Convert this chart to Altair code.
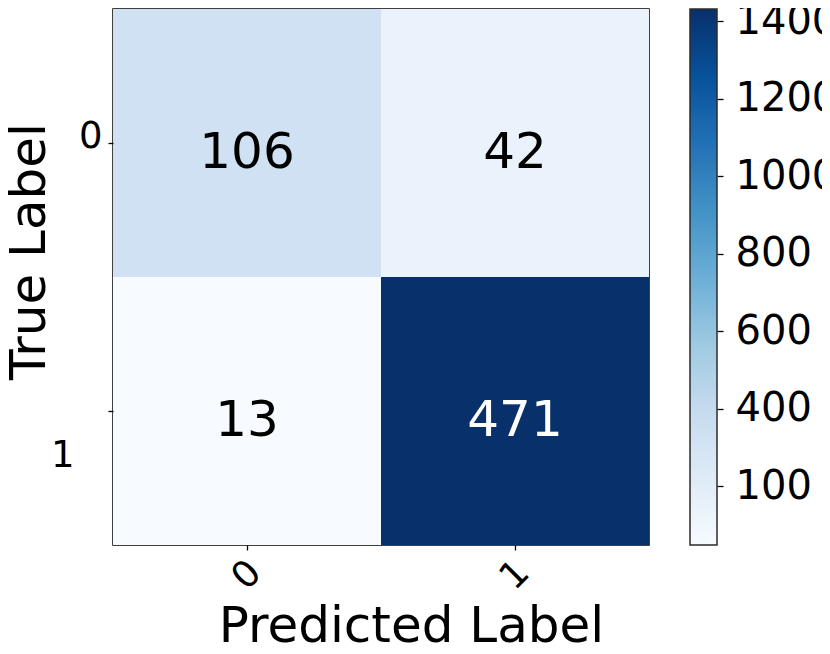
import altair as alt
import pandas as pd
import numpy as np

# --- data ---
true_labels = ["0", "0", "1", "1"]
pred_labels = ["0", "1", "0", "1"]
counts = [106, 42, 13, 471]
class_names = ["0", "1"]

cbar_ticks = [200, 400, 600, 800, 1000, 1200, 1400]
cbar_labels = ["100", "400", "600", "800", "1000", "1200", "1400"]
cbar_extent = [48, 1431]

blues = ["#f7fbff", "#deebf7", "#c6dbef", "#9ecae1", "#6baed6",
         "#4292c6", "#2171b5", "#08519c", "#08306b"]

FONT = "DejaVu Sans"

df = pd.DataFrame({"true": true_labels, "pred": pred_labels, "count": counts})
df["txtcolor"] = np.where(df["count"] > (min(counts) + max(counts)) / 2, "white", "black")
cb = pd.DataFrame({"lo": [cbar_extent[0]], "hi": [cbar_extent[1]]})

cmin, cmax = min(counts), max(counts)
dom = list(np.linspace(cmin, cmax, len(blues)))

x_enc = alt.X(
    "pred:N", sort=class_names,
    scale=alt.Scale(paddingInner=0, paddingOuter=0),
    axis=alt.Axis(
        title="Predicted Label", titleFont=FONT, titleFontSize=50,
        titleFontWeight="normal", titleColor="black",
        titleX=298, titleY=96, titleBaseline="alphabetic", titleAlign="center",
        labelAngle=-45, labelAlign="center", labelBaseline="middle",
        labelFont=FONT, labelFontSize=37, labelColor="black", labelPadding=25,
        tickColor="black", tickSize=5, tickWidth=1.3, domain=False, grid=False,
    ),
)
y_enc = alt.Y(
    "true:N", sort=class_names,
    scale=alt.Scale(paddingInner=0, paddingOuter=0),
    axis=alt.Axis(
        title="True Label", titleFont=FONT, titleFontSize=50,
        titleFontWeight="normal", titleColor="black",
        titleX=-69, titleY=242, titleAngle=270, titleBaseline="alphabetic",
        titleAlign="center",
        labelFont=FONT, labelFontSize=37, labelColor="black",
        labelAngle=0, labelAlign="right", labelBaseline="middle",
        labelOffset={"condition": {"test": "datum.value == '1'", "value": 45}, "value": -6},
        labelPadding={"condition": {"test": "datum.value == '1'", "value": 34}, "value": 6},
        tickColor="black", tickSize=5, tickWidth=1.3, domain=False, grid=False,
    ),
)

heat = alt.Chart(df).mark_rect().encode(
    x=x_enc, y=y_enc,
    color=alt.Color("count:Q", scale=alt.Scale(domain=dom, range=blues, interpolate="rgb"),
                    legend=None),
)

text = alt.Chart(df).mark_text(font=FONT, fontSize=50, baseline="middle", dy=10).encode(
    x=alt.X("pred:N", sort=class_names),
    y=alt.Y("true:N", sort=class_names,
            scale=alt.Scale(paddingInner=0, paddingOuter=0), axis=None),
    text=alt.Text("count:Q"),
    color=alt.Color("txtcolor:N", scale=None),
)

label_expr = " : ".join(
    [f"datum.value == {v} ? '{l}'" for v, l in zip(cbar_ticks, cbar_labels)]
) + " : datum.label"

gradient = alt.Gradient(
    gradient="linear",
    stops=[alt.GradientStop(color=c, offset=i / (len(blues) - 1)) for i, c in enumerate(blues)],
    x1=0, x2=0, y1=1, y2=0,
)

cbar = alt.Chart(cb).mark_rect(color=gradient, stroke="#2b2b2b", strokeWidth=1.5).encode(
    x=alt.value(577), x2=alt.value(604),
    y=alt.Y(
        "lo:Q",
        scale=alt.Scale(domain=cbar_extent, nice=False, zero=False),
        axis=alt.Axis(
            orient="right", offset=68, title=None, values=cbar_ticks,
            labelExpr=label_expr, labelFont=FONT, labelFontSize=40,
            labelColor="black", labelPadding=12, labelBaseline="middle",
            tickColor="black", tickSize=6, tickWidth=1.3, domain=False, grid=False,
        ),
    ),
    y2="hi:Q",
)

chart = (
    alt.layer(heat, text, cbar)
    .resolve_scale(y="independent", color="independent")
    .properties(
        width=536, height=536,
        autosize=alt.AutoSizeParams(type="none"),
        padding={"left": 105, "top": 1, "right": 173, "bottom": 101},
        background="white",
    )
    .configure_view(stroke="black", strokeWidth=1.5)
)

chart.save("out.html", embed_options={"renderer": "svg", "actions": False})
